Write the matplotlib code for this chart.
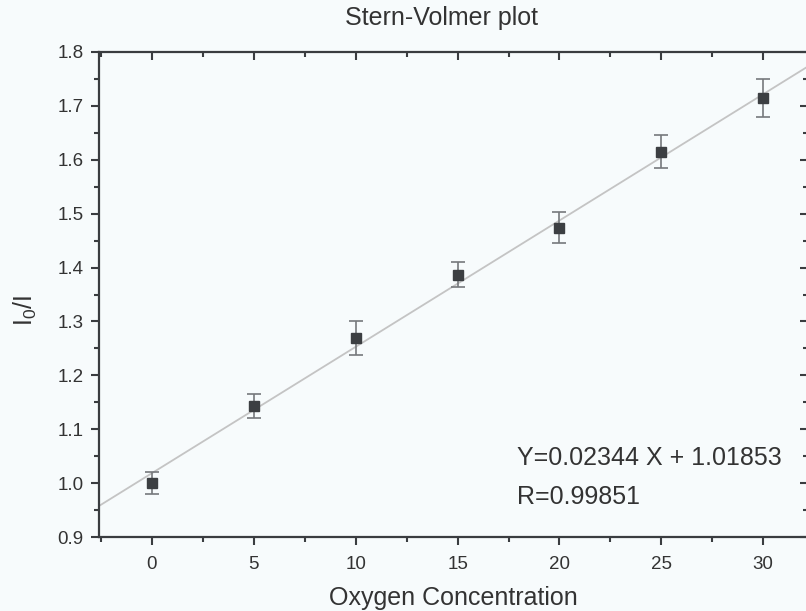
import numpy as np
import matplotlib
matplotlib.use('Agg')
import matplotlib.pyplot as plt
from matplotlib.ticker import MultipleLocator

plt.rcParams['font.family'] = ['Liberation Sans', 'DejaVu Sans']
plt.rcParams['mathtext.default'] = 'regular'

# data
conc = [0, 5, 10, 15, 20, 25, 30]
ratio = [1.000, 1.143, 1.269, 1.387, 1.474, 1.615, 1.715]
err = [0.020, 0.023, 0.031, 0.023, 0.029, 0.031, 0.035]
slope = 0.02344
intercept = 1.01853
r_value = 0.99851

ink = '#3a3d40'
bg = '#f7fbfc'

fig = plt.figure(figsize=(8.06, 6.11), dpi=100, facecolor=bg)
ax = fig.add_axes([0.1228, 0.1211, 0.8797, 0.7938], facecolor=bg)

xl = (-2.6, 32.2)
xf = np.array(xl)
ax.plot(xf, slope * xf + intercept, color='#c4c4c4', lw=1.3, zorder=1)
ax.errorbar(conc, ratio, yerr=err, fmt='s', color='#3c3f42', ms=7.5,
            ecolor='#76797c', elinewidth=1.2, capsize=5, capthick=1.2, zorder=3)

ax.set_xlim(*xl)
ax.set_ylim(0.9, 1.8)
ax.xaxis.set_major_locator(MultipleLocator(5))
ax.xaxis.set_minor_locator(MultipleLocator(2.5))
ax.yaxis.set_major_locator(MultipleLocator(0.1))
ax.yaxis.set_minor_locator(MultipleLocator(0.05))
ax.yaxis.set_major_formatter(plt.FormatStrFormatter('%.1f'))

for s in ax.spines.values():
    s.set_color(ink)
    s.set_linewidth(1.6)

ax.tick_params(which='both', direction='out', colors=ink, width=1.5,
               labelsize=13.5, labelcolor='#333333')
ax.tick_params(which='major', length=6)
ax.tick_params(which='minor', length=3.5)
ax.tick_params(axis='x', which='major', pad=8)
ax.tick_params(axis='y', which='major', pad=5)

# inward ticks on top and right
ax2 = ax.twiny()
ax2.set_xlim(*xl)
ax2.xaxis.set_major_locator(MultipleLocator(5))
ax2.xaxis.set_minor_locator(MultipleLocator(2.5))
ax2.tick_params(which='both', direction='in', colors=ink, width=1.5, labeltop=False)
ax2.tick_params(which='major', length=6)
ax2.tick_params(which='minor', length=3.5)
ax3 = ax.twinx()
ax3.set_ylim(0.9, 1.8)
ax3.yaxis.set_major_locator(MultipleLocator(0.1))
ax3.yaxis.set_minor_locator(MultipleLocator(0.05))
ax3.tick_params(which='both', direction='in', colors=ink, width=1.5, labelright=False)
ax3.tick_params(which='major', length=6)
ax3.tick_params(which='minor', length=3.5)
for a in (ax2, ax3):
    for s in a.spines.values():
        s.set_visible(False)

ax.text(17.9, 1.046, 'Y=%.5f X + %.5f' % (slope, intercept), fontsize=18,
        color='#333333', va='center', ha='left')
ax.text(17.9, 0.974, 'R=%.5f' % r_value, fontsize=18,
        color='#333333', va='center', ha='left')

fig.text(442 / 806, 1 - 18 / 611, 'Stern-Volmer plot', fontsize=18,
         color='#333333', ha='center', va='center')
fig.text(453 / 806, 1 - 598 / 611, 'Oxygen Concentration', fontsize=18,
         color='#333333', ha='center', va='center')
fig.text(25 / 806, 1 - 310 / 611, r'$I_0/I$', fontsize=18,
         color='#333333', ha='center', va='center', rotation=90)

fig.savefig('out.png', dpi=100, facecolor=bg)
